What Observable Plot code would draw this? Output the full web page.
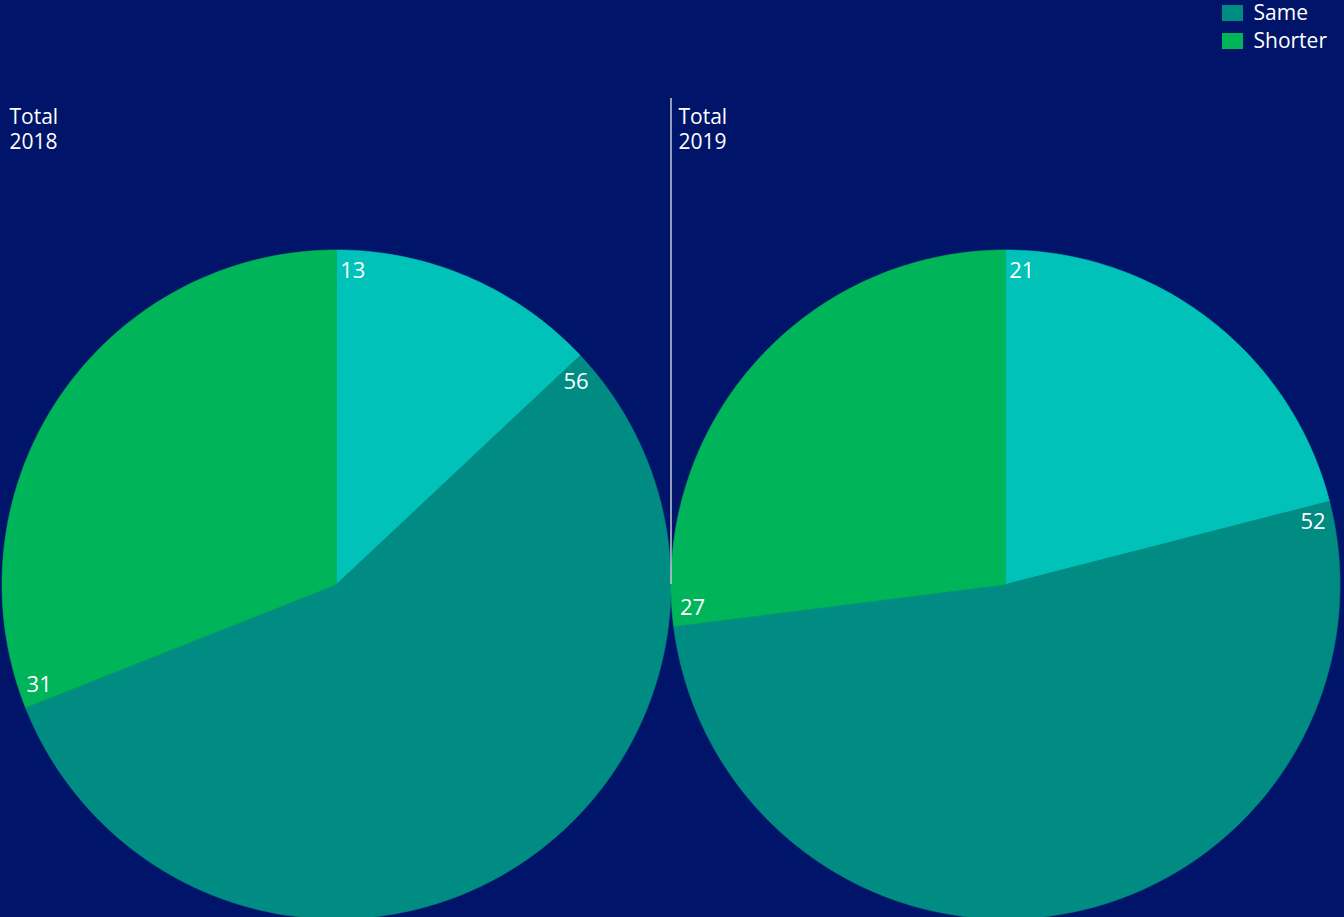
<!DOCTYPE html>
<html><head><meta charset="utf-8">
<script src="https://cdn.jsdelivr.net/npm/d3@7"></script>
<script src="https://cdn.jsdelivr.net/npm/@observablehq/plot@0.6"></script>
<style>
html,body{margin:0;padding:0;background:#001569;overflow:hidden;font-family:"Open Sans",sans-serif}
#chart{position:relative;width:1344px;height:917px}
#legend{position:absolute;left:1222px;top:-1px}
#legend div{line-height:27px;overflow:visible !important}
</style></head><body><div id="chart"><div id="legend"></div></div>
<script>
// ---- data ----
const years = ["2018", "2019"];
const titlePrefix = "Total";
const categories = ["Longer", "Same", "Shorter"];
const values2018 = [13, 56, 31];
const values2019 = [21, 52, 27];
const colors = ["#00c2b8", "#008c83", "#00b45a"];
const legendItems = ["Same", "Shorter"];

// ---- layout (pixels) ----
const W = 1344, H = 917, R = 334.5, CX0 = 336, CY = 584;

const seriesByYear = [values2018, values2019];
const slices = [], labels = [];
const pie = d3.pie().sort(null).value(d => d.value);
seriesByYear.forEach((vals, i) => {
  const cx = 2 * i; // pies spaced one diameter apart (units of radius)
  const arcs = pie(categories.map((c, k) => ({category: c, value: vals[k]})));
  arcs.forEach(a => {
    const key = years[i] + "-" + a.data.category;
    const n = Math.max(2, Math.ceil((a.endAngle - a.startAngle) / (2 * Math.PI) * 360));
    slices.push({key, category: a.data.category, x: cx, y: 0});
    for (let j = 0; j <= n; j++) {
      const t = a.startAngle + (a.endAngle - a.startAngle) * j / n;
      slices.push({key, category: a.data.category, x: cx + Math.sin(t), y: Math.cos(t)});
    }
    slices.push({key, category: a.data.category, x: cx, y: 0});
    const la = a.startAngle + 0.052, lr = 0.938;
    labels.push({x: cx + lr * Math.sin(la), y: lr * Math.cos(la), text: String(a.data.value)});
  });
});

const titleStyle = {x: (d, i) => 2 * i - 1, y: CY / R, dx: 7.5, textAnchor: "start", lineAnchor: "top", fontSize: 21, fill: "white"};

const chart = Plot.plot({
  width: W, height: H,
  margin: 0,
  style: {background: "transparent", fontFamily: "'Open Sans', sans-serif", overflow: "visible"},
  x: {domain: [-CX0 / R, (W - CX0) / R], axis: null},
  y: {domain: [-(H - CY) / R, CY / R], axis: null},
  color: {domain: categories, range: colors},
  marks: [
    Plot.line(slices, {x: "x", y: "y", z: "key", fill: "category", stroke: "category", strokeWidth: 0.6, curve: "linear"}),
    Plot.ruleX([1], {y1: 0, y2: (CY - 98) / R, stroke: "#c4c7d6", strokeWidth: 1.5}),
    Plot.text(years, {...titleStyle, dy: 109, text: () => titlePrefix}),
    Plot.text(years, {...titleStyle, dy: 134, text: d => d}),
    Plot.text(labels, {x: "x", y: "y", text: "text", fontSize: 22, fill: "white", textAnchor: "middle"})
  ]
});
document.getElementById("chart").prepend(chart);

const legend = Plot.legend({
  color: {domain: legendItems, range: [colors[1], colors[2]]},
  legend: "swatches", columns: 1, swatchWidth: 21, swatchHeight: 16,
  style: {fontSize: "21px", color: "white", fontFamily: "'Open Sans', sans-serif", background: "transparent"}
});
document.getElementById("legend").appendChild(legend);
</script></body></html>
